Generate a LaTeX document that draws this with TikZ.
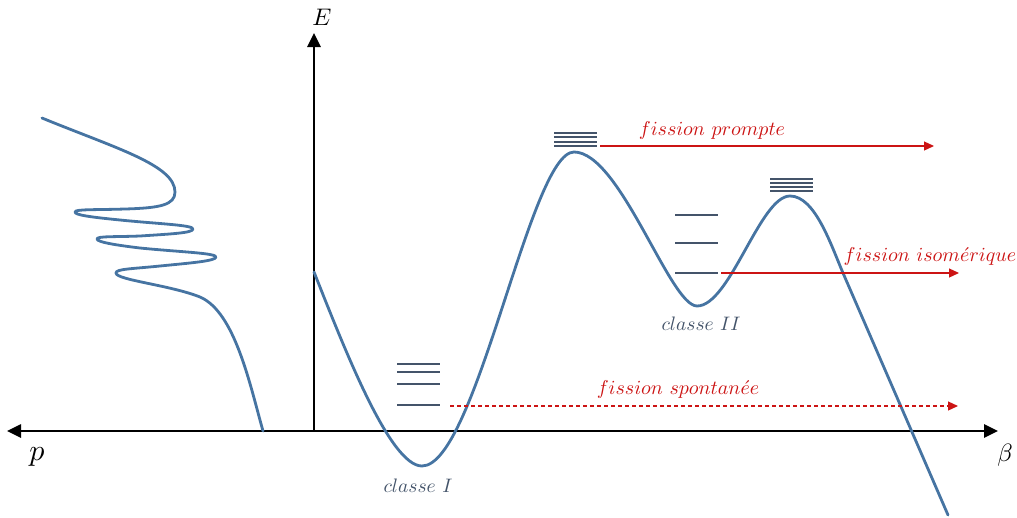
\documentclass[tikz,border=0pt]{standalone}
\usetikzlibrary{arrows.meta}
\definecolor{curveblue}{RGB}{70,116,162}
\definecolor{levelgray}{RGB}{68,84,106}
\definecolor{fissred}{RGB}{204,20,20}
\begin{document}
\begin{tikzpicture}[x=1pt,y=-1pt,
  axis/.style={line width=2.6pt,black,-{Triangle[length=14pt,width=13pt]}},
  curve/.style={line width=2.8pt,curveblue,line join=round,line cap=round},
  level/.style={line width=2pt,levelgray},
  thinlevel/.style={line width=1.5pt,levelgray},
  fissarrow/.style={line width=1.2pt,draw=fissred,-{Triangle[length=10pt,width=9pt,fill=fissred]}},
  fisslabel/.style={text=fissred,inner sep=0pt},
  classlabel/.style={text=levelgray,inner sep=1pt}]
\useasboundingbox (0,0) rectangle (1017,517);
% axes
\coordinate (O) at (314,431);
\coordinate (Ltip) at (7,431);
\coordinate (Rtip) at (998,431);
\coordinate (Etip) at (314,33);
\draw[axis] (O) -- (Rtip);
\draw[axis] (O) -- (Ltip);
\draw[axis] (O) -- (Etip);
\node (E) at (322,17) {\scalebox{2.4}{$E$}};
\node (p) at (37,457) {\scalebox{3.0}{$p$}};
\node (beta) at (1005,455) {\scalebox{2.5}{$\beta$}};
% main potential curve
\draw[curve] (314,272)
  .. controls (345,350) and (390,466) .. (422,466)
  .. controls (476,466) and (530,152) .. (574,152)
  .. controls (620,152) and (670,306) .. (697,306)
  .. controls (730,306) and (760,196) .. (790,196)
  .. controls (815,196) and (831,245) .. (843,273)
  -- (948,515);
% left wiggly curve
\draw[curve] (42,118)
  .. controls (115,148) and (175,165) .. (175,192)
  .. controls (175,205) and (160,208) .. (125,209)
  .. controls (95,210) and (75,209) .. (75,212)
  .. controls (75,215) and (90,217) .. (120,220)
  .. controls (160,224) and (193,225) .. (193,229)
  .. controls (193,233) and (170,234) .. (140,236)
  .. controls (115,237) and (97,236) .. (97,239)
  .. controls (97,242) and (115,245) .. (140,248)
  .. controls (180,252) and (216,253) .. (216,257)
  .. controls (216,261) and (190,263) .. (160,266)
  .. controls (130,269) and (116,269) .. (116,273)
  .. controls (116,280) and (170,285) .. (200,297)
  .. controls (235,312) and (250,385) .. (263,431);
% class I levels
\foreach \y/\n in {364/a,372/b,384/c,405/d}
  \draw[level] (397,\y) coordinate (LI\n) -- (440,\y) coordinate (RI\n);
% barrier 1 levels
\foreach \y/\n in {133/a,137/b,142/c,146/d}
  \draw[thinlevel] (554,\y) coordinate (LB\n) -- (597,\y) coordinate (RB\n);
% barrier 2 levels
\foreach \y/\n in {179/a,183/b,187/c,191/d}
  \draw[thinlevel] (770,\y) coordinate (LC\n) -- (813,\y) coordinate (RC\n);
% class II levels
\foreach \y/\n in {215/a,243/b,273/c}
  \draw[level] (675,\y) coordinate (LD\n) -- (718,\y) coordinate (RD\n);
% fission arrows
\coordinate (promptEnd) at (934,146);
\coordinate (isoEnd) at (959,273);
\coordinate (spontStart) at (450,406);
\coordinate (spontEnd) at (958,406);
\draw[fissarrow] ([xshift=3pt]RBd) -- (promptEnd);
\draw[fissarrow] ([xshift=3pt]RDc) -- (isoEnd);
\draw[fissarrow,dash pattern=on 4pt off 3pt] (spontStart) -- (spontEnd);
\node[fisslabel] (lprompt) at (712,130) {\scalebox{2.0}{$fission\ prompte$}};
\node[fisslabel] (liso) at (930,256) {\scalebox{2.0}{$fission\ isom\acute{e}rique$}};
\node[fisslabel] (lspont) at (678,389) {\scalebox{2.0}{$fission\ spontan\acute{e}e$}};
\node[classlabel] (cI) at (418,486) {\scalebox{1.95}{$classe\ I$}};
\node[classlabel] (cII) at (701,324) {\scalebox{1.95}{$classe\ II$}};
\end{tikzpicture}
\end{document}
